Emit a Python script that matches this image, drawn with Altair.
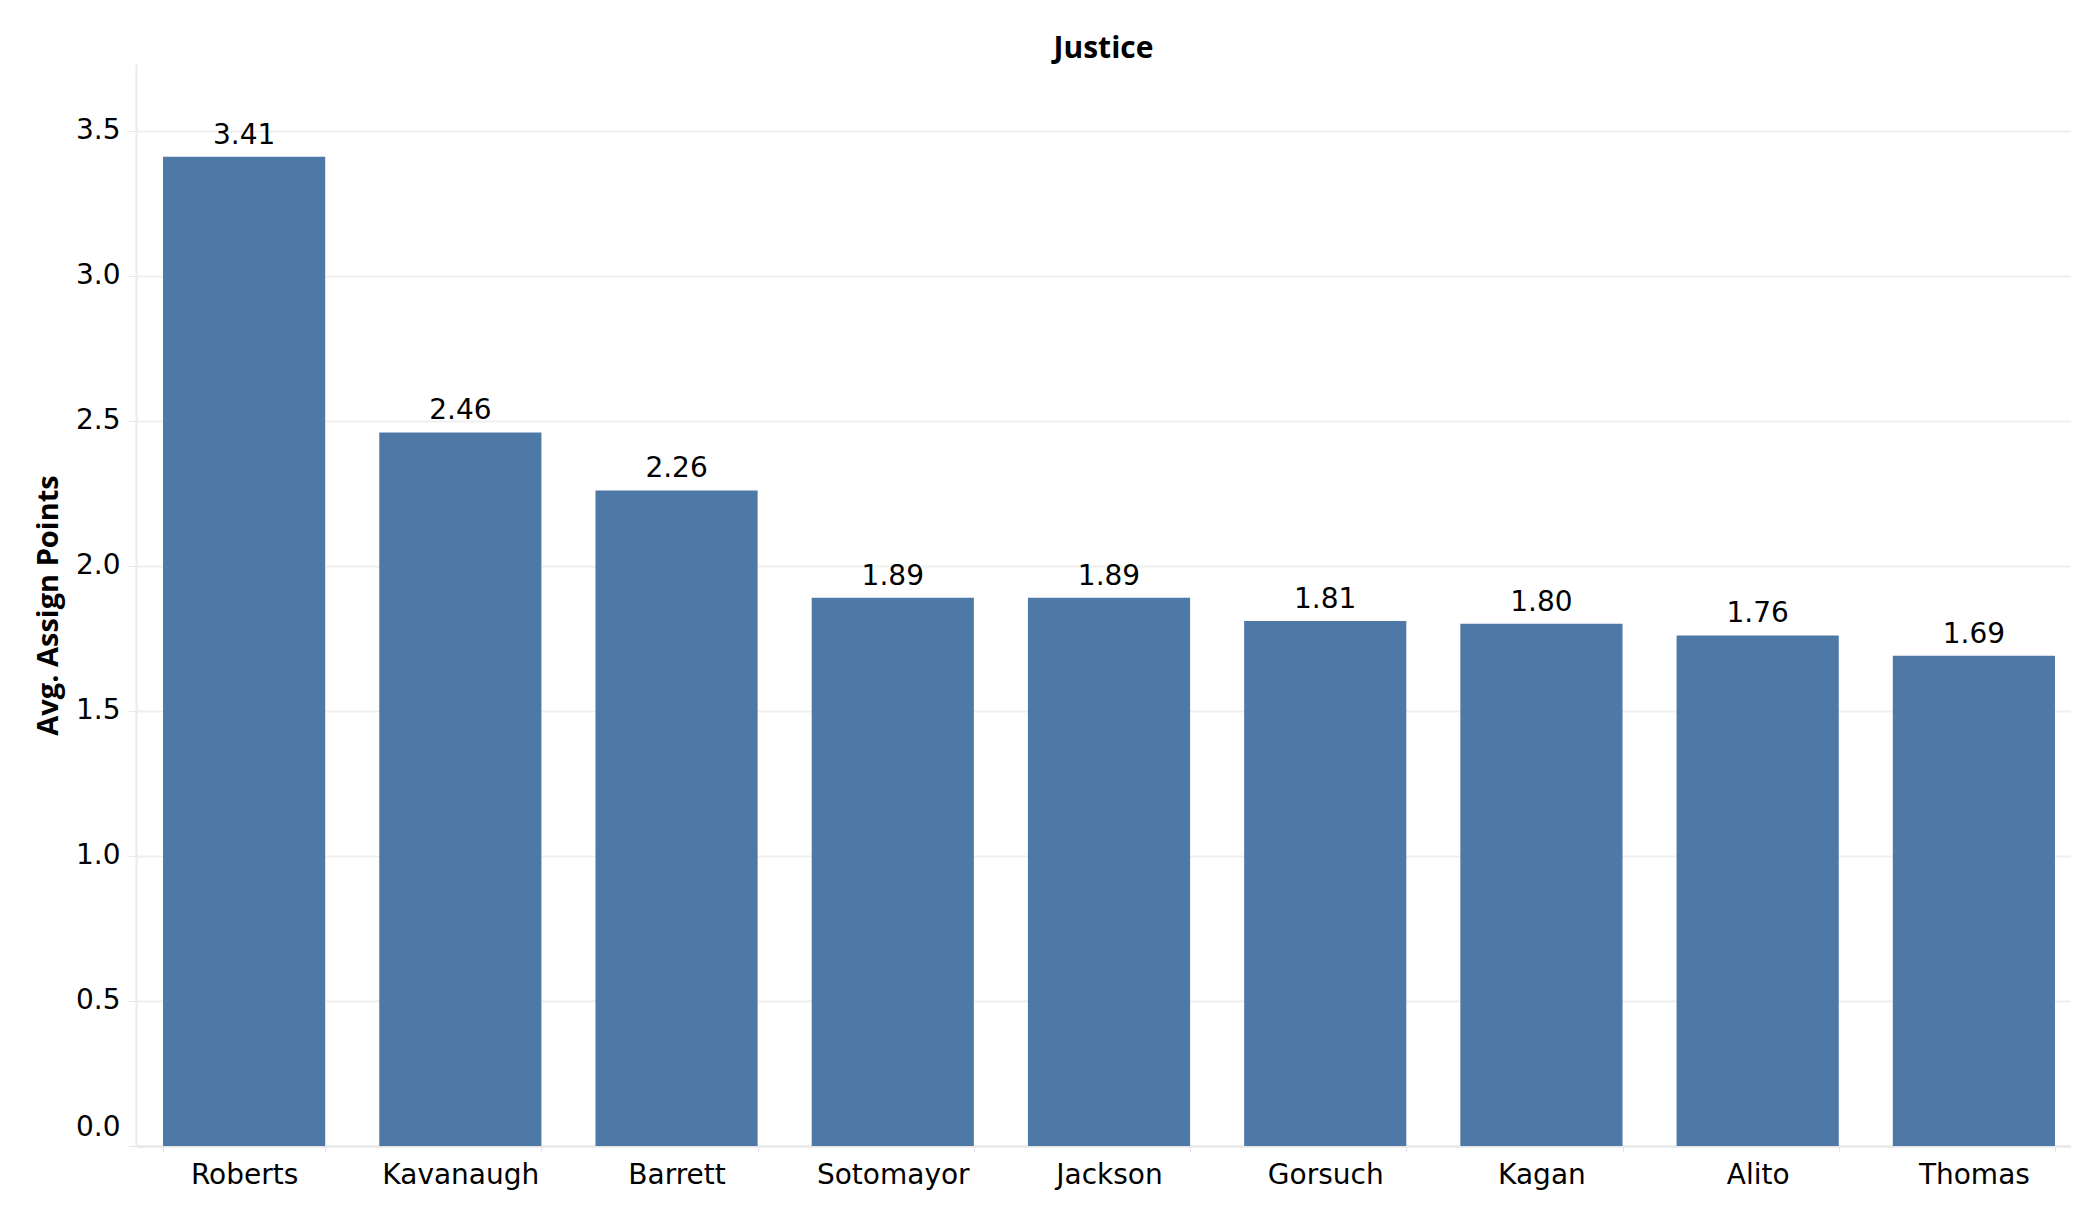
import altair as alt
import pandas as pd

justices = ["Roberts", "Kavanaugh", "Barrett", "Sotomayor", "Jackson",
            "Gorsuch", "Kagan", "Alito", "Thomas"]
avg_points = [3.41, 2.46, 2.26, 1.89, 1.89, 1.81, 1.80, 1.76, 1.69]
y_ticks = [0.0, 0.5, 1.0, 1.5, 2.0, 2.5, 3.0, 3.5]

df = pd.DataFrame({"Justice": justices, "Avg": avg_points})

LABEL_FONT = "DejaVu Sans"
TITLE_FONT = "Open Sans"

base = alt.Chart(df).encode(
    x=alt.X(
        "Justice:N",
        sort=justices,
        title=None,
        scale=alt.Scale(paddingInner=0.25, paddingOuter=0.125, range=[0, 1946]),
        axis=alt.Axis(
            labelAngle=0,
            labelFont=LABEL_FONT,
            labelFontSize=28,
            labelColor="#000000",
            labelPadding=9,
            tickBand="extent",
            tickColor="#e6e6e6",
            tickSize=6,
            domainColor="#e6e6e6",
            domainWidth=2,
            grid=False,
        ),
    ),
    y=alt.Y(
        "Avg:Q",
        scale=alt.Scale(domain=[0, 3.73], nice=False, zero=True),
        axis=alt.Axis(
            values=y_ticks,
            format=".1f",
            title="Avg. Assign Points",
            titleFont=TITLE_FONT,
            titleFontSize=29,
            titleFontWeight="bold",
            titleColor="#000000",
            titleX=-88,
            titleBaseline="middle",
            labelFont=LABEL_FONT,
            labelFontSize=28,
            labelColor="#000000",
            labelPadding=8,
            labelFlush=True,
            labelFlushOffset=-5,
            tickColor="#e6e6e6",
            tickSize=8,
            domainColor="#ebebeb",
            domainWidth=2,
            gridColor="#efefef",
            gridWidth=2,
        ),
    ),
)

bars = base.mark_bar(color="#4e79a7")
labels = base.mark_text(
    baseline="bottom", dy=-7, font=LABEL_FONT, fontSize=28, color="#000000"
).encode(text=alt.Text("Avg:Q", format=".2f"))

chart = (
    (bars + labels)
    .properties(
        width=1935,
        height=1082,
        title=alt.TitleParams(
            "Justice",
            anchor="middle",
            frame="group",
            font=TITLE_FONT,
            fontSize=30,
            fontWeight="bold",
            color="#000000",
            offset=0,
        ),
        autosize=alt.AutoSizeParams(type="none"),
        padding={"left": 128, "top": 56, "right": 0, "bottom": 60},
    )
    .configure_view(stroke=None)
)

chart.save("out.html", embed_options={"renderer": "svg", "actions": False})
